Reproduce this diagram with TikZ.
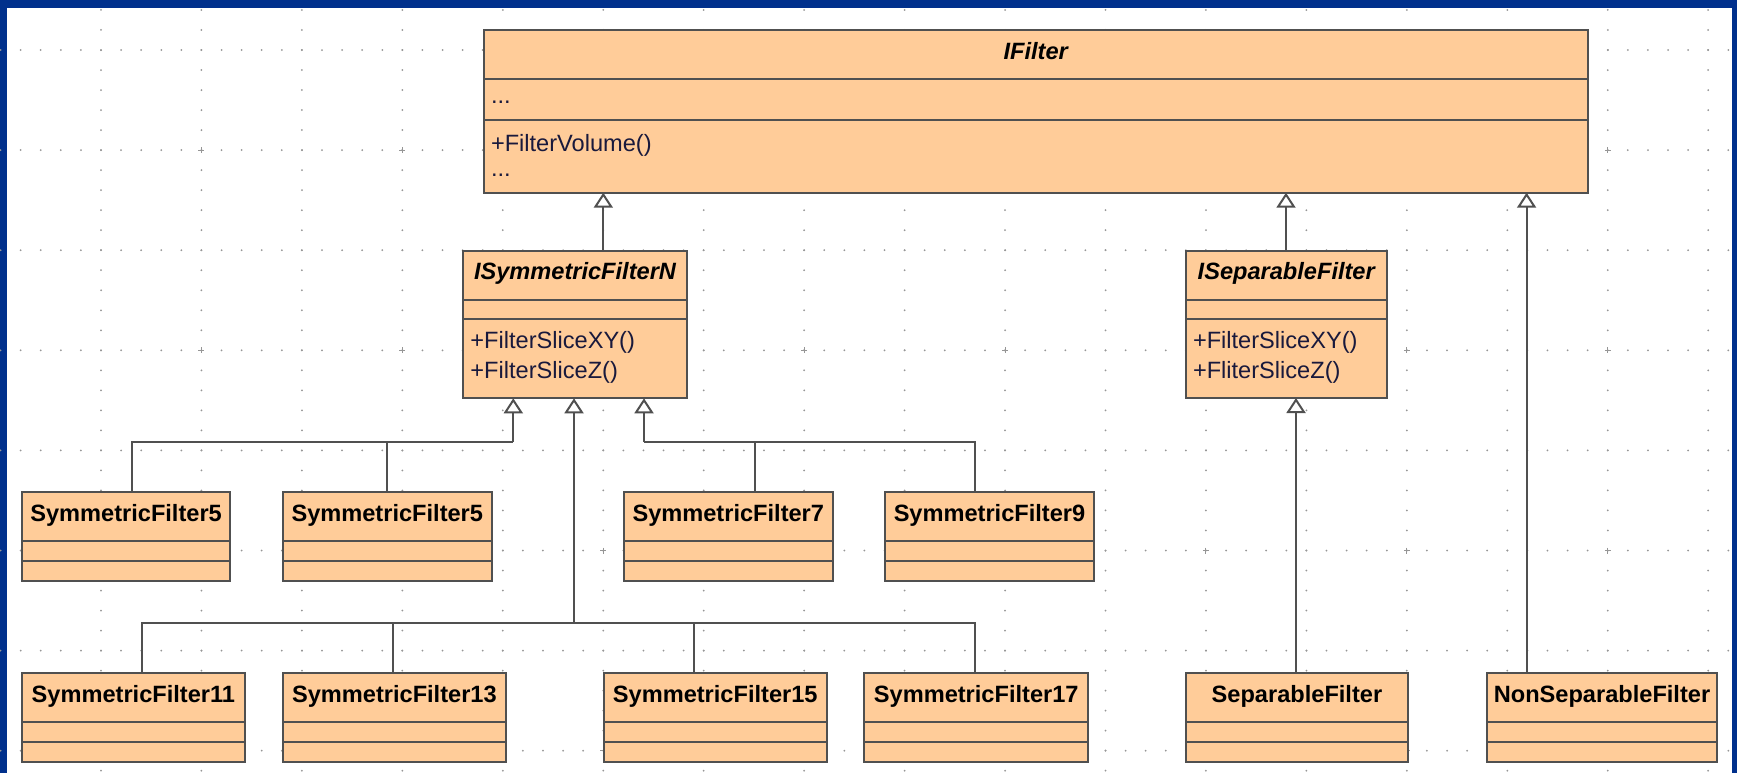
\documentclass[tikz,border=0pt]{standalone}
\usepackage{fontspec}
\setmainfont{Liberation Sans}
\usetikzlibrary{arrows.meta}
\definecolor{frameblue}{RGB}{0,48,140}
\definecolor{peach}{RGB}{255,204,153}
\definecolor{edgegray}{RGB}{80,80,80}
\definecolor{dotgray}{RGB}{150,150,150}
\definecolor{methodcol}{RGB}{25,25,60}
\tikzset{
  clsbox/.style={draw=edgegray, fill=peach, line width=1pt, inner sep=0pt, outer sep=0pt},
  clsline/.style={draw=edgegray, line width=1pt},
  conn/.style={draw=edgegray, line width=1pt},
  gen/.style={conn, -{Triangle[length=7.5pt, width=9.5pt, fill=white]}},
  ttl/.style={font=\bfseries\fontsize{11.8}{14}\selectfont, text=black, inner sep=0pt},
  attl/.style={font=\bfseries\itshape\fontsize{11.8}{14}\selectfont, text=black, inner sep=0pt},
  memb/.style={font=\fontsize{11.8}{14}\selectfont, text=methodcol, anchor=base west, inner sep=0pt},
  griddot/.style={fill=dotgray},
}
\newcommand\umlclass[9]{%
  \node[clsbox, minimum width={(#4-#2)*0.5pt}, minimum height={(#5-#3)*0.5pt}, anchor=north west] (#1) at (#2,#3) {};
  \draw[clsline] (#2,#6) -- (#4,#6);
  \draw[clsline] (#2,#7) -- (#4,#7);
  \node[#9, anchor=base] (#1-title) at ({(#2+#4)/2},{#3+29}) {#8};
}
\begin{document}
\begin{tikzpicture}[x=0.5pt,y=-0.5pt]
\useasboundingbox (0,0) rectangle (1737,773);
% frame
\fill[frameblue] (0,0) rectangle (1737,773);
\fill[white] (6.5,7.5) rectangle (1732,773);
% dotted grid
\foreach \r in {0,...,7}{
  \foreach \m in {-5,...,81}{
    \fill[griddot] ({101+20.09*\m},{50+100.1*\r}) circle[radius=0.5pt];
  }
}
\foreach \k in {0,...,16}{
  \foreach \n in {-2,...,36}{
    \fill[griddot] ({101+100.45*\k},{50+20.02*\n}) circle[radius=0.5pt];
  }
}
\foreach \k in {1,3,...,15}{
  \foreach \r in {1,3,5,7}{
    \draw[dotgray, line width=0.5pt] ({101+100.45*\k-3},{50+100.1*\r}) -- ++(6,0)
      ({101+100.45*\k},{50+100.1*\r-3}) -- ++(0,6);
  }
}
% classes
\umlclass{ifilter}{484}{30}{1587.5}{192.7}{78.7}{120.3}{IFilter}{attl}
\node[memb] (ifa) at (490.6,103) {...};
\node[memb] (ifm1) at (490.6,151) {+FilterVolume()};
\node[memb] (ifm2) at (490.6,176) {...};

\umlclass{isym}{463.3}{250.7}{686.7}{398.3}{300}{319.3}{ISymmetricFilterN}{attl}
\node[memb] (isym1) at (470,348.5) {+FilterSliceXY()};
\node[memb] (isym2) at (470,378.5) {+FilterSliceZ()};

\umlclass{isep}{1185.7}{250.7}{1386.8}{398}{300}{319.3}{ISeparableFilter}{attl}
\node[memb] (isep1) at (1192.6,348) {+FilterSliceXY()};
\node[memb] (isep2) at (1192.6,378) {+FliterSliceZ()};

\umlclass{sf5a}{21.8}{492.3}{230.4}{581}{540.7}{560.7}{SymmetricFilter5}{ttl}
\umlclass{sf5b}{282.8}{492.3}{491.8}{581}{540.7}{560.7}{SymmetricFilter5}{ttl}
\umlclass{sf7}{624}{492.3}{832.6}{581}{540.7}{560.7}{SymmetricFilter7}{ttl}
\umlclass{sf9}{885}{492.3}{1094}{581}{540.7}{560.7}{SymmetricFilter9}{ttl}

\umlclass{sf11}{21.8}{673.3}{245}{762.3}{721.7}{741.7}{SymmetricFilter11}{ttl}
\umlclass{sf13}{282.8}{673.3}{506}{762.3}{721.7}{741.7}{SymmetricFilter13}{ttl}
\umlclass{sf15}{603.7}{673.3}{826.8}{762.3}{721.7}{741.7}{SymmetricFilter15}{ttl}
\umlclass{sf17}{864.3}{673.3}{1088.2}{762.3}{721.7}{741.7}{SymmetricFilter17}{ttl}
\umlclass{sepf}{1185.6}{673.3}{1408.3}{762.3}{721.7}{741.7}{SeparableFilter}{ttl}
\umlclass{nonsep}{1487}{673.3}{1717}{762.3}{721.7}{741.7}{NonSeparableFilter}{ttl}

% connectors to IFilter
\coordinate (xA) at (603.3,220);
\coordinate (xB) at (1286,220);
\coordinate (xC) at (1526.6,220);
\draw[gen] (xA |- isym.north) -- (xA |- ifilter.south);
\draw[gen] (xB |- isep.north) -- (xB |- ifilter.south);
\draw[gen] (xC |- nonsep.north) -- (xC |- ifilter.south);
% SeparableFilter to ISeparableFilter
\coordinate (xD) at (1296,500);
\draw[gen] (xD |- sepf.north) -- (xD |- isep.south);
% SymmetricFilter5 pair
\coordinate (jA) at (513.3,442);
\coordinate (vA1) at (132.4,442);
\coordinate (vA2) at (387.3,442);
\draw[conn] (vA1 |- sf5a.north) -- (vA1) -- (jA);
\draw[conn] (vA2 |- sf5b.north) -- (vA2);
\draw[gen] (jA) -- (jA |- isym.south);
% SymmetricFilter7/9
\coordinate (jB) at (644,442);
\coordinate (vB1) at (755,442);
\coordinate (vB2) at (975.3,442);
\draw[conn] (vB2 |- sf9.north) -- (vB2) -- (jB);
\draw[conn] (vB1 |- sf7.north) -- (vB1);
\draw[gen] (jB) -- (jB |- isym.south);
% row 2
\coordinate (jC) at (574,622.7);
\coordinate (vC1) at (142.4,622.7);
\coordinate (vC2) at (393,622.7);
\coordinate (vC3) at (694,622.7);
\coordinate (vC4) at (975.3,622.7);
\draw[conn] (vC1 |- sf11.north) -- (vC1) -- (vC4) -- (vC4 |- sf17.north);
\draw[conn] (vC2 |- sf13.north) -- (vC2);
\draw[conn] (vC3 |- sf15.north) -- (vC3);
\draw[gen] (jC) -- (jC |- isym.south);
\end{tikzpicture}
\end{document}
